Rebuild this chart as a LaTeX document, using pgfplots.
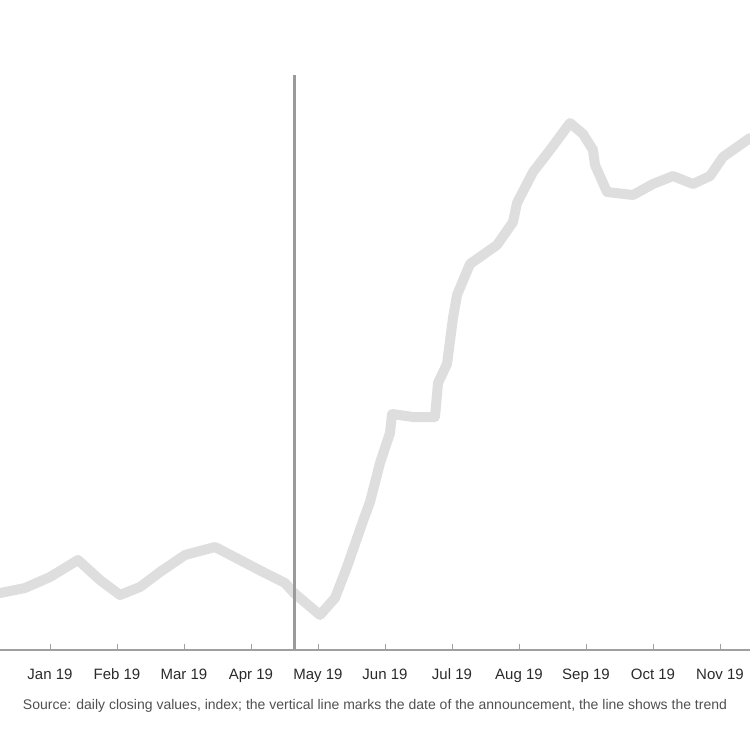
\documentclass[border=0pt]{standalone}
\usepackage{pgfplots}
\pgfplotsset{compat=1.18}
\usepackage{fontspec}
\setmainfont{Liberation Sans}
\definecolor{lineg}{HTML}{DEDEDE}
\definecolor{markg}{HTML}{9A9A9A}
\definecolor{axisg}{HTML}{A0A0A0}
\definecolor{textg}{HTML}{2A2A2A}
\definecolor{noteg}{HTML}{505050}
\begin{document}
\begin{tikzpicture}
 \begin{axis}[
   name=ax,
   scale only axis,
   width=375pt, height=325pt,
   xmin=0, xmax=750, ymin=0, ymax=650,
   axis x line*=bottom,
   axis y line=none,
   x axis line style={axisg, line width=0.9pt},
   ytick=\empty,
   xtick={50,117,184,251,318,385,452,519,586,653,720},
   xticklabels={Jan 19,Feb 19,Mar 19,Apr 19,May 19,Jun 19,Jul 19,Aug 19,Sep 19,Oct 19,Nov 19},
   tick style={axisg},
   major tick length=3pt,
   tick label style={font=\fontsize{7.5}{9}\selectfont, text=textg, yshift=-6pt},
   /pgf/number format/assume math mode=true,
   xlabel={Source: daily closing values, index; the vertical line marks the date of the announcement, the line shows the trend},
   xlabel style={font=\scriptsize, text=noteg, at={(axis description cs:0.5,0)}, anchor=center, yshift=-28pt},
   clip=false,
 ]
   % trend line
   \addplot[lineg, line width=5pt, line join=round, line cap=round] coordinates {
     (0,57) (25,62) (50,73) (78,90) (100,70) (120,55) (140,63) (160,78)
     (185,95) (215,103) (240,90) (265,77) (285,67) (294,57) (320,35)
     (335,52) (347,83) (363,129) (370,148) (380,187) (390,217) (392,236)
     (413,233) (435,233) (438,267) (447,286) (453,332) (457,355) (470,386)
     (497,405) (513,428) (517,447) (533,478) (550,500) (570,527) (583,516)
     (593,500) (595,485) (607,458) (633,455) (653,466) (673,474) (693,466)
     (710,474) (723,493) (750,512)
   };
   % event marker
   \addplot[markg, line width=1.5pt] coordinates {(294,0) (294,575)};
 \end{axis}
 \pgfresetboundingbox
 \path[use as bounding box] (ax.south west) ++(0,-50pt) rectangle (ax.north east);
\end{tikzpicture}
\end{document}
